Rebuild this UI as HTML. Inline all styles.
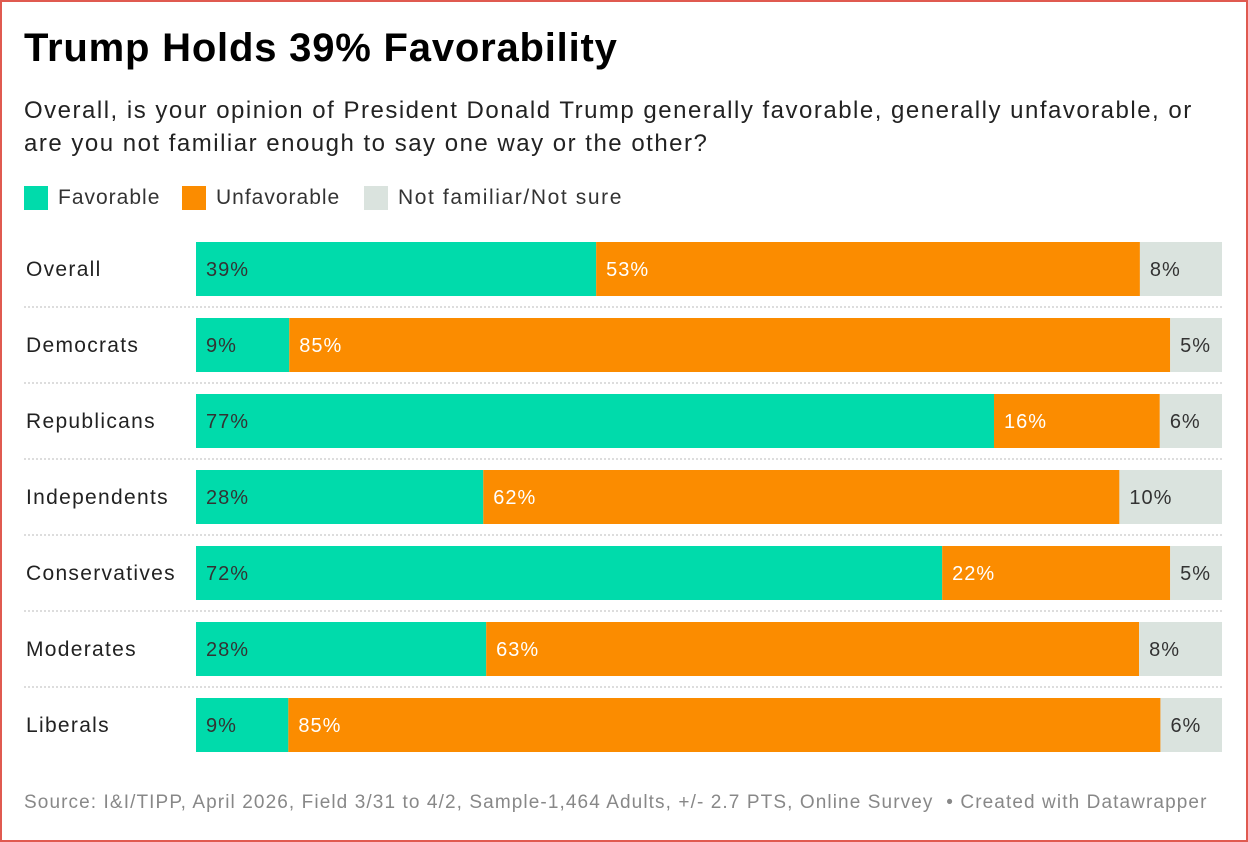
<!DOCTYPE html>
<html><head><meta charset="utf-8">
<style>
body{margin:0;width:1248px;height:842px;background:#fff;font-family:"Liberation Sans",Arial,sans-serif;overflow:hidden}
#frame{position:absolute;left:0;top:0;width:1244px;height:838px;border:2px solid #e05a50}
h1{position:absolute;left:24px;top:26px;margin:0;font-size:40px;font-weight:bold;color:#000;letter-spacing:0.8px}
#sub{position:absolute;left:24px;top:94px;width:1212px;font-size:24px;line-height:33px;color:#222;letter-spacing:1.5px}
#legend{position:absolute;left:24px;top:186px;font-size:21px;color:#333;letter-spacing:1px}
.lg{position:absolute;display:flex;align-items:center;white-space:nowrap;top:0}
.sw{width:24px;height:24px;margin-right:10px}
#src{position:absolute;left:24px;top:792px;font-size:19px;color:#888;letter-spacing:1.1px;white-space:nowrap}
svg{position:absolute;left:0;top:0}
</style></head><body>
<div id="frame"></div>
<h1>Trump Holds 39% Favorability</h1>
<div id="sub">Overall, is your opinion of President Donald Trump generally favorable, generally unfavorable, or are you not familiar enough to say one way or the other?</div>
<div id="legend">
<div class="lg" style="left:0"><div class="sw" style="background:#00dbab"></div>Favorable</div>
<div class="lg" style="left:158px"><div class="sw" style="background:#fb8c00"></div>Unfavorable</div>
<div class="lg" style="left:340px;letter-spacing:1.6px"><div class="sw" style="background:#dae3de"></div>Not familiar/Not sure</div>
</div>
<svg id="chart" width="1248" height="842"></svg>
<div id="src">Source: I&amp;I/TIPP, April 2026, Field 3/31 to 4/2, Sample-1,464 Adults, +/- 2.7 PTS, Online Survey &nbsp;• Created with Datawrapper</div>
<script>
const categories=["Overall","Democrats","Republicans","Independents","Conservatives","Moderates","Liberals"];
const favorable=[39,9,77,28,72,28,9];
const unfavorable=[53,85,16,62,22,63,85];
const notSure=[8,5,6,10,5,8,6];
const svg=document.getElementById('chart');
const NS='http://www.w3.org/2000/svg';
const x0=196,x1=1222,top0=242,pitch=76,bh=54;
const colors=['#00dbab','#fb8c00','#dae3de'];
const tcol=['#333','#fff','#333'];
const segNames=['favorable','unfavorable','not-sure'];
function xs(v,total){return v/total*(x1-x0);}
categories.forEach((c,i)=>{
  const y=top0+i*pitch;
  const lab=document.createElementNS(NS,'text');
  
  
  lab.setAttribute('x',26);lab.setAttribute('y',y+bh/2+7);
  lab.setAttribute('font-size','21');lab.setAttribute('fill','#222');
  lab.setAttribute('letter-spacing','1.3');
  lab.setAttribute('font-family','Liberation Sans, sans-serif');
  lab.textContent=c;svg.appendChild(lab);
  const vals=[favorable[i],unfavorable[i],notSure[i]];
  const tot=vals[0]+vals[1]+vals[2];
  let cx=x0;
  vals.forEach((v,k)=>{
    const w=xs(v,tot);
    const r=document.createElementNS(NS,'rect');
    
    
    r.setAttribute('x',cx);r.setAttribute('y',y);r.setAttribute('width',w);r.setAttribute('height',bh);
    r.setAttribute('fill',colors[k]);svg.appendChild(r);
    const t=document.createElementNS(NS,'text');
    
    
    t.setAttribute('x',cx+10);t.setAttribute('y',y+bh/2+7);
    t.setAttribute('font-size','20');t.setAttribute('fill',tcol[k]);
    t.setAttribute('letter-spacing','1');
    t.setAttribute('font-family','Liberation Sans, sans-serif');
    t.textContent=v+'%';svg.appendChild(t);
    cx+=w;
  });
  if(i<categories.length-1){
    const l=document.createElementNS(NS,'line');
    
    
    const ly=y+bh+11;
    l.setAttribute('x1',24);l.setAttribute('x2',1222);l.setAttribute('y1',ly);l.setAttribute('y2',ly);
    l.setAttribute('stroke','#bbb');l.setAttribute('stroke-dasharray','2,2');
    svg.appendChild(l);
  }
});
</script>
</body></html>
